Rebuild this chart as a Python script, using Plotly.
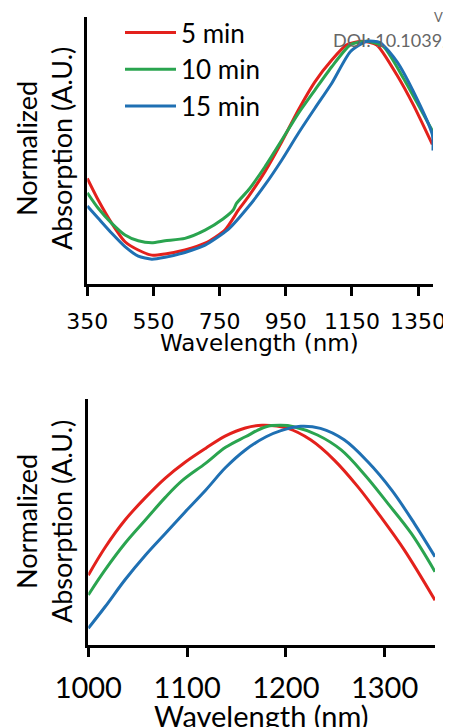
import plotly.graph_objects as go

W, H = 451, 727
OFF = 8  # page offset of the figure inside the browser window

# ---------------- data: top panel (full spectrum) ----------------
wl_5_top = [350, 383, 424, 464, 504, 545, 585, 645, 706, 766, 807, 837, 887, 938, 988,
            1038, 1089, 1134, 1180, 1225, 1286, 1336, 1393]
abs_5_top = [0.435, 0.346, 0.25, 0.174, 0.14, 0.119, 0.124, 0.14, 0.168, 0.222, 0.305, 0.36,
             0.463, 0.586, 0.717, 0.833, 0.923, 0.985, 1.0, 0.985, 0.861, 0.737, 0.575]

wl_10_top = [350, 383, 424, 464, 504, 545, 585, 645, 706, 760, 791, 801, 837, 887, 938, 988,
             1038, 1089, 1145, 1195, 1245, 1306, 1356, 1395]
abs_10_top = [0.376, 0.312, 0.25, 0.202, 0.178, 0.170, 0.178, 0.188, 0.222, 0.268, 0.305, 0.332,
              0.387, 0.483, 0.593, 0.703, 0.799, 0.895, 0.985, 1.0, 0.978, 0.847, 0.724, 0.627]

wl_15_top = [350, 383, 424, 464, 504, 545, 585, 645, 706, 776, 837, 887, 938, 988, 1038,
             1089, 1145, 1195, 1235, 1286, 1336, 1393, 1395]
abs_15_top = [0.321, 0.271, 0.209, 0.154, 0.115, 0.102, 0.11, 0.13, 0.16, 0.225, 0.318, 0.408,
              0.511, 0.621, 0.724, 0.827, 0.957, 1.0, 0.995, 0.916, 0.792, 0.615, 0.55]

# ---------------- data: bottom panel (1000-1350 nm zoom) ----------------
wl_5_bot = [1000, 1017, 1037, 1058, 1078, 1098, 1119, 1139, 1159, 1176, 1202, 1225, 1249,
            1273, 1296, 1320, 1351]
abs_5_bot = [0.659, 0.722, 0.784, 0.836, 0.880, 0.916, 0.948, 0.976, 0.994, 1.0, 0.993, 0.967,
             0.921, 0.860, 0.792, 0.716, 0.602]

wl_10_bot = [1000, 1017, 1037, 1058, 1078, 1095, 1119, 1139, 1159, 1180, 1195, 1208, 1232,
             1256, 1280, 1303, 1327, 1351]
abs_10_bot = [0.614, 0.671, 0.731, 0.785, 0.836, 0.874, 0.914, 0.950, 0.974, 0.997, 1.0, 0.997,
              0.978, 0.944, 0.887, 0.823, 0.754, 0.667]

wl_15_bot = [1000, 1017, 1037, 1058, 1078, 1098, 1119, 1139, 1159, 1180, 1195, 1215, 1235,
             1259, 1283, 1307, 1330, 1351]
abs_15_bot = [0.538, 0.587, 0.648, 0.705, 0.754, 0.803, 0.853, 0.904, 0.944, 0.974, 0.988, 0.998,
              0.993, 0.967, 0.917, 0.853, 0.777, 0.701]

series_names = ["5 min", "10 min", "15 min"]
colors = ["#e3211c", "#2aa44f", "#1f70b3"]

top_x_ticks = [350, 550, 750, 950, 1150, 1350]
bot_x_ticks = [1000, 1100, 1200, 1300]

FONT = "Lato"
WIDE = "DejaVu Sans"

def px(x):
    return (x - OFF) / W

def py(y):
    return 1 - (y - OFF) / H

fig = go.Figure()

tops = [(wl_5_top, abs_5_top), (wl_10_top, abs_10_top), (wl_15_top, abs_15_top)]
bots = [(wl_5_bot, abs_5_bot), (wl_10_bot, abs_10_bot), (wl_15_bot, abs_15_bot)]

for (xs, ys), name, c in zip(tops, series_names, colors):
    fig.add_trace(go.Scatter(x=xs, y=ys, mode="lines", name=name,
                             line=dict(color=c, width=3, shape="spline", smoothing=0.6),
                             xaxis="x", yaxis="y", showlegend=True))
for (xs, ys), name, c in zip(bots, series_names, colors):
    fig.add_trace(go.Scatter(x=xs, y=ys, mode="lines", name=name,
                             line=dict(color=c, width=3, shape="spline", smoothing=1.0),
                             xaxis="x2", yaxis="y2", showlegend=False))

axis_common = dict(showline=True, linecolor="black", linewidth=2.5, showgrid=False,
                   zeroline=False, mirror=False, automargin=False)

fig.update_layout(
    width=W, height=H,
    margin=dict(l=0, r=0, t=0, b=0, pad=0, autoexpand=False),
    paper_bgcolor="white", plot_bgcolor="white",
    font=dict(family=FONT, color="black"),
    xaxis=dict(domain=[px(87.3), px(433)], range=[350, 1395], tickvals=top_x_ticks,
               ticks="outside", ticklen=9, tickwidth=2.5, tickcolor="black",
               tickfont=dict(family=WIDE, size=22, color="black"), ticklabelstandoff=7,
               anchor="y", **axis_common),
    yaxis=dict(domain=[py(284), py(17)], range=[0, 1.1], showticklabels=False, ticks="",
               anchor="x", **axis_common),
    xaxis2=dict(domain=[px(88.3), px(435)], range=[1000, 1351], tickvals=bot_x_ticks,
                ticks="outside", ticklen=9, tickwidth=2.5, tickcolor="black",
                tickfont=dict(family=FONT, size=29, color="black"), ticklabelstandoff=6,
                anchor="y2", **axis_common),
    yaxis2=dict(domain=[py(645), py(399)], range=[0.5, 1.06], showticklabels=False, ticks="",
                anchor="x2", **axis_common),
    legend=dict(x=px(120), y=py(9), xanchor="left", yanchor="top",
                font=dict(family=FONT, size=26, color="black"),
                bgcolor="rgba(0,0,0,0)", itemwidth=51, tracegroupgap=0),
)

annots = [
    dict(text="Wavelength (nm)", x=px(259), y=py(343), size=23, angle=0, fam=WIDE),
    dict(text="Wavelength (nm)", x=px(261), y=py(715), size=29, angle=0, fam=FONT),
    dict(text="Normalized<br>Absorption (A.U.)", x=px(44), y=py(149), size=27, angle=-90, fam=FONT),
    dict(text="Normalized<br>Absorption (A.U.)", x=px(44), y=py(522), size=27, angle=-90, fam=FONT),
]
for a in annots:
    fig.add_annotation(text=a["text"], x=a["x"], y=a["y"], xref="paper", yref="paper",
                       xanchor="center", yanchor="middle", showarrow=False,
                       textangle=a["angle"], align="center",
                       font=dict(family=a["fam"], size=a["size"], color="black"))

# publisher watermark text (clipped at the right edge in the original)
fig.add_annotation(text="View Article Online", x=px(432), y=py(17), xref="paper", yref="paper",
                   xanchor="left", yanchor="middle", showarrow=False,
                   font=dict(family=FONT, size=13, color="#666666"))
fig.add_annotation(text="DOI: 10.1039/", x=px(331), y=py(40), xref="paper", yref="paper",
                   xanchor="left", yanchor="middle", showarrow=False,
                   font=dict(family=FONT, size=18, color="#666666"))

fig.write_html("out.html")
